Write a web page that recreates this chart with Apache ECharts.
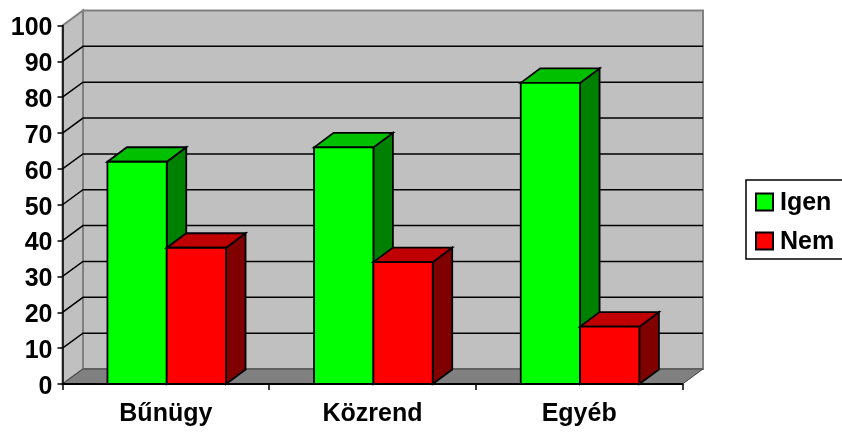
<!DOCTYPE html>
<html>
<head>
<meta charset="utf-8">
<style>html,body{margin:0;padding:0;background:#fff;overflow:hidden}#chart{width:842px;height:432px}</style>
<script src="https://cdn.jsdelivr.net/npm/echarts@6/dist/echarts.min.js"></script>
</head>
<body>
<div id="chart"></div>
<script>
// Survey answers per topic, percent
const categories = ['Bűnügy', 'Közrend', 'Egyéb'];
const igen = [62, 66, 84];
const nem = [38, 34, 16];
const gridValues = [10, 20, 30, 40, 50, 60, 70, 80, 90];

// Oblique projection of the box and column widths
const DEPTH_X = 20.5;
const DEPTH_Y = 15;
const BAR_BAND_SHARE = 0.287;
const BAR_SHIFT = 0.9;
const EDGE = { stroke: '#000', lineWidth: 1.8 };

function poly(points, fill, stroke, lineWidth) {
  return {
    type: 'polygon',
    shape: { points: points },
    style: { fill: fill, stroke: stroke, lineWidth: lineWidth }
  };
}

// Side wall and back wall, floor
function renderBox(params) {
  const r = params.coordSys;
  const l = r.x, t = r.y, w = r.width, h = r.height, b = t + h;
  const dx = DEPTH_X, dy = DEPTH_Y;
  return {
    type: 'group',
    children: [
      poly([[l + dx, t - dy], [l + w + dx, t - dy], [l + w + dx, b - dy], [l + dx, b - dy]], '#c0c0c0', '#808080', 2),
      poly([[l, t], [l + dx, t - dy], [l + dx, b - dy], [l, b]], '#c0c0c0', '#808080', 2),
      poly([[l, b], [l + dx, b - dy], [l + w + dx, b - dy], [l + w, b]], '#808080', '#404040', 1)
    ]
  };
}

// One gridline folded over the side wall and the back wall
function renderGridline(params, api) {
  const r = params.coordSys;
  const y = api.coord([0, api.value(0)])[1];
  return {
    type: 'polyline',
    shape: { points: [[r.x, y], [r.x + DEPTH_X, y - DEPTH_Y], [r.x + r.width + DEPTH_X, y - DEPTH_Y]] },
    style: { fill: 'none', stroke: '#000', lineWidth: 1.5 }
  };
}

// A column: front face, top face, side face. offset is in bar widths from the band centre.
function columnRenderer(offset, front, top, side) {
  return function (params, api) {
    const i = api.value(0);
    const bw = api.size([1, 0])[0] * BAR_BAND_SHARE;
    const cx = api.coord([i, 0])[0] + BAR_SHIFT;
    const base = api.coord([i, 0])[1];
    const y = api.coord([i, api.value(1)])[1];
    const x0 = cx + offset * bw, x1 = x0 + bw;
    const dx = DEPTH_X - 1, dy = DEPTH_Y - 0.5;
    const shape = (pts, fill) => ({
      type: 'polygon',
      shape: { points: pts },
      style: Object.assign({ fill: fill }, EDGE)
    });
    return {
      type: 'group',
      children: [
        shape([[x1, base], [x1 + dx, base - dy], [x1 + dx, y - dy], [x1, y]], side),
        shape([[x0, y], [x0 + dx, y - dy], [x1 + dx, y - dy], [x1, y]], top),
        shape([[x0, base], [x0, y], [x1, y], [x1, base]], front)
      ]
    };
  };
}

const textStyle = { color: '#000', fontFamily: 'Liberation Sans', fontWeight: 'bold', fontSize: 25 };

const chart = echarts.init(document.getElementById('chart'), null, { renderer: 'canvas' });
chart.setOption({
  animation: false,
  backgroundColor: '#fff',
  grid: { left: 62.5, top: 25.5, width: 620, height: 358.5 },
  legend: {
    data: ['Igen', 'Nem'],
    orient: 'vertical',
    left: 746,
    top: 180,
    padding: [11, 20, 4, 9],
    itemGap: 14,
    itemWidth: 17,
    itemHeight: 17,
    backgroundColor: '#fff',
    borderColor: '#000',
    borderWidth: 1.5,
    borderRadius: 0,
    formatter: '{t|{name}}',
    textStyle: Object.assign({}, textStyle, {
      rich: { t: Object.assign({}, textStyle, { padding: [3, 0, 0, 2] }) }
    }),
    icon: 'rect'
  },
  xAxis: {
    type: 'category',
    data: categories,
    z: 5,
    axisLine: { lineStyle: { color: '#000', width: 2 } },
    axisTick: { show: true, alignWithLabel: false, length: 6, lineStyle: { color: '#000', width: 1.5 } },
    axisLabel: Object.assign({}, textStyle, { margin: 18 }),
    splitLine: { show: false }
  },
  yAxis: {
    type: 'value',
    min: 0,
    max: 100,
    interval: 10,
    z: 5,
    axisLine: { show: true, lineStyle: { color: '#000', width: 1.5 } },
    axisTick: { show: true, length: 5, lineStyle: { color: '#000', width: 1.5 } },
    axisLabel: Object.assign({}, textStyle, { margin: 10, verticalAlign: 'top', lineHeight: 6 }),
    splitLine: { show: false }
  },
  series: [
    { type: 'custom', name: 'box', silent: true, z: 1, renderItem: renderBox, data: [0], encode: { y: 0 } },
    { type: 'custom', name: 'grid', silent: true, z: 2, renderItem: renderGridline, data: gridValues.map(v => [v]), encode: { y: 0 } },
    {
      type: 'custom', name: 'Igen', z: 3,
      renderItem: columnRenderer(-1, '#00ff00', '#00c000', '#008000'),
      itemStyle: { color: '#00ff00', borderColor: '#000', borderWidth: 1.5 },
      data: igen.map((v, i) => [i, v]),
      encode: { x: 0, y: 1 }
    },
    {
      type: 'custom', name: 'Nem', z: 4,
      renderItem: columnRenderer(0, '#ff0000', '#c00000', '#800000'),
      itemStyle: { color: '#ff0000', borderColor: '#000', borderWidth: 1.5 },
      data: nem.map((v, i) => [i, v]),
      encode: { x: 0, y: 1 }
    }
  ]
});
</script>
</body>
</html>
